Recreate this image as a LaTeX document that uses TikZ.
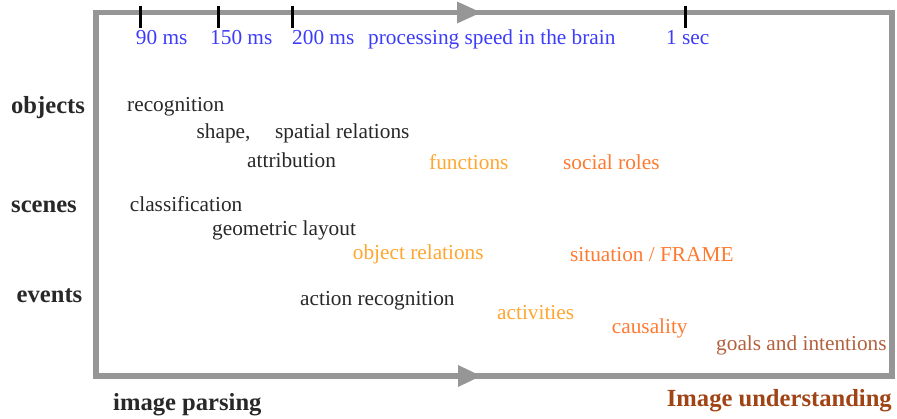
\documentclass[tikz,border=0pt]{standalone}
\usepackage{fontspec}
\setmainfont{Liberation Serif}
\definecolor{framegray}{RGB}{150,150,150}
\definecolor{speedblue}{RGB}{60,60,250}
\definecolor{plain}{RGB}{40,40,40}
\definecolor{lightorange}{RGB}{255,166,48}
\definecolor{midorange}{RGB}{255,122,48}
\definecolor{goalbrown}{RGB}{178,96,62}
\definecolor{understand}{RGB}{160,68,22}
\tikzset{
  lbl/.style={anchor=base west, inner sep=0pt, font=\fontsize{21.3}{24}\selectfont},
  speed/.style={lbl, text=speedblue},
  low/.style={lbl, text=plain},
  mid/.style={lbl, text=lightorange},
  high/.style={lbl, text=midorange},
  top/.style={lbl, text=goalbrown},
  cat/.style={anchor=base west, inner sep=0pt, font=\fontsize{24.6}{28}\selectfont\bfseries, text=plain},
  tick/.style={draw=black, line width=3pt},
  axis/.style={draw=framegray, line width=5.5pt},
  head/.style={fill=framegray}
}
\begin{document}
\begin{tikzpicture}[x=1pt,y=-1pt]
\useasboundingbox (0,0) rectangle (897,419);
% frame
\draw[axis] (96,12.5) rectangle (892,376);
% arrow heads on top and bottom edges
\fill[head] (457,1.5) -- (481,12.5) -- (457,23.5) -- cycle;
\fill[head] (458,365) -- (481,376) -- (458,387) -- cycle;
% time ticks
\draw[tick] (140,6) -- (140,28);
\draw[tick] (218,6) -- (218,28);
\draw[tick] (292,6) -- (292,28);
\draw[tick] (685,6) -- (685,28);
% time labels
\node[speed] (t90)  at (135.7,45) {90 ms};
\node[speed] (t150) at (210,45) {150 ms};
\node[speed] (t200) at (292,45) {200 ms};
\node[speed] (spd)  at (368,45) {processing speed in the brain};
\node[speed] (t1s)  at (666,45) {1 sec};
% row headings
\node[cat] (obj) at (11,113.5) {objects};
\node[cat] (scn) at (11,213) {scenes};
\node[cat] (evt) at (16.5,302.5) {events};
% objects
\node[low] (rec)  at (127,111.5) {recognition};
\node[low] (shp)  at (196.5,138.5) {shape,};
\node[low] (spr)  at (275,138.5) {spatial relations};
\node[low] (att)  at (247,167.5) {attribution};
\node[mid] (fun)  at (429,169.5) {functions};
\node[high] (soc) at (563,170) {social roles};
% scenes
\node[low] (cls)  at (129.7,212) {classification};
\node[low] (geo)  at (212,235.5) {geometric layout};
\node[mid] (orl)  at (352.7,259.5) {object relations};
\node[high] (sit) at (570,262) {situation / FRAME};
% events
\node[low] (act)  at (300,305.5) {action recognition};
\node[mid] (acv)  at (497,319.5) {activities};
\node[high] (cau) at (611.7,333.5) {causality};
\node[top] (goa)  at (716,350.5) {goals and intentions};
% bottom labels
\node[cat] (par) at (113,410) {image parsing};
\node[cat, text=understand] (und) at (666.7,406.7) {Image understanding};
\end{tikzpicture}
\end{document}
